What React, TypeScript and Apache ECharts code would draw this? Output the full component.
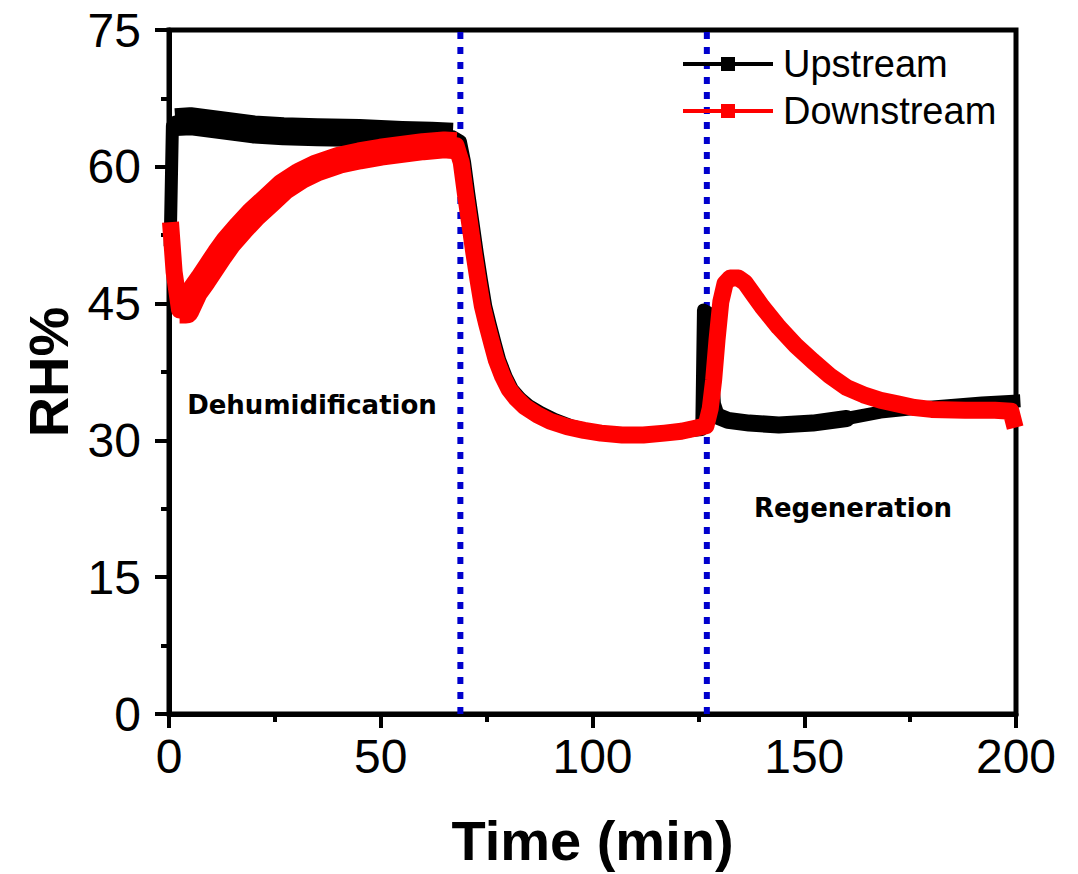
import React, { useEffect, useRef } from "react";
import * as echarts from "echarts";

// ---- Data ----
const upTime = [
  0.3, 0.8, 1.5, 5, 10, 15, 20, 27, 35, 45, 55, 62, 67, 68.8, 69.8, 70.8, 71.8,
  72.8, 73.8, 74.8, 75.8, 77.1, 78.1, 79.6, 81.1, 83, 85, 88, 91, 95, 100, 105,
  110, 115, 120, 124, 125.8, 126.2, 127.3, 128.8, 129.8, 132, 137, 144, 152,
  160, 168, 176, 184, 192, 199.5,
];
const upRH = [
  52, 64.5, 64.9, 65.0, 64.7, 64.4, 64.1, 63.9, 63.8, 63.7, 63.5, 63.4, 63.3,
  62.8, 60.5, 57, 53.8, 50.5, 47.5, 44.7, 42.8, 40.5, 38.8, 37, 35.6, 34.6,
  33.8, 33.0, 32.3, 31.6, 31.0, 30.7, 30.6, 30.7, 30.9, 31.1, 31.2, 44.3, 44.0,
  34.0, 32.6, 32.2, 31.9, 31.7, 31.9, 32.4, 33.1, 33.5, 33.8, 34.1, 34.3,
];

const downTime = [
  0.5, 1.2, 2.5, 4, 6, 8, 10, 12, 14, 17, 20, 24, 27, 31, 35, 40, 45, 50, 55,
  60, 65, 67.8, 69, 70, 71, 72, 73, 74, 75, 76.3, 77.3, 78.8, 80.3, 82, 84, 87,
  90, 94, 98, 102, 107, 112, 117, 121, 124, 126.8, 127.8, 128.6, 129.4, 130.3,
  131.3, 132.5, 134.5, 136, 138, 140, 144, 148, 152, 156, 160, 164, 168, 172,
  176, 180, 188, 195, 198.8, 199.3,
];
const downRH = [
  53.0, 48.5, 44.3, 44.3, 46.3, 47.6, 49.0, 50.4, 51.7, 53.3, 54.8, 56.5, 57.8,
  59.0, 59.9, 60.7, 61.2, 61.6, 61.9, 62.2, 62.4, 62.3, 60.5, 57, 53.8, 50.5,
  47.5, 44.7, 42.8, 40.5, 38.8, 37.0, 35.6, 34.6, 33.7, 32.8, 32.1, 31.5, 31.1,
  30.8, 30.6, 30.6, 30.8, 31.0, 31.3, 31.6, 33.5, 36.6, 41.0, 45.2, 47.2, 47.8,
  47.8, 47.3, 46.0, 44.7, 42.4, 40.4, 38.7, 37.1, 35.8, 35.0, 34.4, 34.0, 33.6,
  33.4, 33.3, 33.3, 33.2, 32.3,
];

// phase boundaries (min)
const phaseLines = [68.8, 127];

const xTicks = { min: 0, max: 200, interval: 50 };
const yTicks = { min: 0, max: 75, interval: 15 };

const zip = (t: number[], v: number[]) => t.map((x, i) => [x, v[i]]);

export default function App() {
  const ref = useRef<HTMLDivElement>(null);

  useEffect(() => {
    if (!ref.current) return;
    const chart = echarts.init(ref.current, undefined, { renderer: "svg" });

    const upData = zip(upTime, upRH);
    const downData = zip(downTime, downRH);
    // dense (noisy) parts of the record drawn as a wider band
    const upBand = upData.filter((p) => p[0] >= 1.5 && p[0] <= 67);
    const upBand2 = upData.filter((p) => p[0] >= 129.8 && p[0] <= 160);
    const downBand = downData.filter((p) => p[0] >= 2.5 && p[0] <= 67.8);

    const axisFont = "'Liberation Sans', Arial, sans-serif";
    const noteFont = "'DejaVu Sans', sans-serif";

    const phaseSeries = phaseLines.map((t, i) => ({
      type: "line",
      name: "phase" + i,
      data: [
        [t, yTicks.min],
        [t, yTicks.max],
      ],
      showSymbol: false,
      silent: true,
      lineStyle: { color: "#0000CD", width: 6, type: [7, 8] },
      z: 1,
    }));

    const band = (
      name: string,
      data: number[][],
      color: string,
      width: number,
      cap: string,
      z: number
    ) => ({
      type: "line",
      name,
      data,
      showSymbol: false,
      silent: true,
      lineStyle: { color, width, cap, join: "round" },
      z,
    });

    chart.setOption({
      animation: false,
      backgroundColor: "#ffffff",
      grid: {
        left: 169,
        right: 62,
        top: 30,
        bottom: 160,
        show: true,
        borderColor: "#000",
        borderWidth: 5,
        backgroundColor: "transparent",
      },
      legend: {
        data: ["Upstream", "Downstream"],
        orient: "vertical",
        left: 683,
        top: 45,
        padding: 0,
        itemGap: 9,
        itemWidth: 90,
        itemHeight: 14,
        icon: "path://M0,5H90V9H0Z M38,0H52V14H38Z",
        itemStyle: { borderWidth: 0 },
        textStyle: {
          fontFamily: axisFont,
          fontSize: 38,
          color: "#000",
          padding: [0, 0, 0, 5],
        },
      },
      xAxis: {
        type: "value",
        min: xTicks.min,
        max: xTicks.max,
        interval: xTicks.interval,
        name: "Time (min)",
        nameLocation: "middle",
        nameGap: 98,
        nameTextStyle: {
          fontFamily: axisFont,
          fontWeight: "bold",
          fontSize: 56,
          color: "#000",
        },
        axisLine: { show: true, lineStyle: { color: "#000", width: 5 } },
        axisTick: {
          show: true,
          inside: false,
          length: 14,
          lineStyle: { color: "#000", width: 4 },
        },
        minorTick: {
          show: true,
          splitNumber: 2,
          length: 8,
          lineStyle: { color: "#000", width: 4 },
        },
        splitLine: { show: false },
        axisLabel: {
          fontFamily: axisFont,
          fontSize: 48,
          color: "#000",
          margin: 18,
        },
      },
      yAxis: {
        type: "value",
        min: yTicks.min,
        max: yTicks.max,
        interval: yTicks.interval,
        name: "RH%",
        nameLocation: "middle",
        nameGap: 90,
        nameTextStyle: {
          fontFamily: axisFont,
          fontWeight: "bold",
          fontSize: 56,
          color: "#000",
        },
        axisLine: { show: true, lineStyle: { color: "#000", width: 5 } },
        axisTick: {
          show: true,
          inside: false,
          length: 14,
          lineStyle: { color: "#000", width: 4 },
        },
        minorTick: {
          show: true,
          splitNumber: 2,
          length: 8,
          lineStyle: { color: "#000", width: 4 },
        },
        splitLine: { show: false },
        axisLabel: {
          fontFamily: axisFont,
          fontSize: 48,
          color: "#000",
          margin: 28,
        },
      },
      series: [
        ...phaseSeries,
        band("UpstreamBand", upBand, "#000", 28, "butt", 2),
        band("UpstreamBand2", upBand2, "#000", 17, "round", 2),
        {
          type: "line",
          name: "Upstream",
          data: upData,
          showSymbol: false,
          symbol: "rect",
          itemStyle: { color: "#000" },
          lineStyle: { color: "#000", width: 13, cap: "square", join: "round" },
          z: 3,
        },
        band("DownstreamBand", downBand, "#FF0000", 27, "butt", 4),
        {
          type: "line",
          name: "Downstream",
          data: downData,
          showSymbol: false,
          symbol: "rect",
          itemStyle: { color: "#FF0000" },
          lineStyle: { color: "#FF0000", width: 17, cap: "square", join: "round" },
          z: 5,
        },
      ],
      graphic: [
        {
          type: "text",
          x: 312,
          y: 405,
          style: {
            text: "Dehumidification",
            fontFamily: noteFont,
            fontWeight: "bold",
            fontSize: 26,
            fill: "#000",
            align: "center",
            verticalAlign: "middle",
          },
          z: 10,
        },
        {
          type: "text",
          x: 853,
          y: 508,
          style: {
            text: "Regeneration",
            fontFamily: noteFont,
            fontWeight: "bold",
            fontSize: 26,
            fill: "#000",
            align: "center",
            verticalAlign: "middle",
          },
          z: 10,
        },
      ],
    });

    return () => chart.dispose();
  }, []);

  return (
    <div
      ref={ref}
      style={{ position: "absolute", left: 0, top: 0, width: 1078, height: 874 }}
    />
  );
}
